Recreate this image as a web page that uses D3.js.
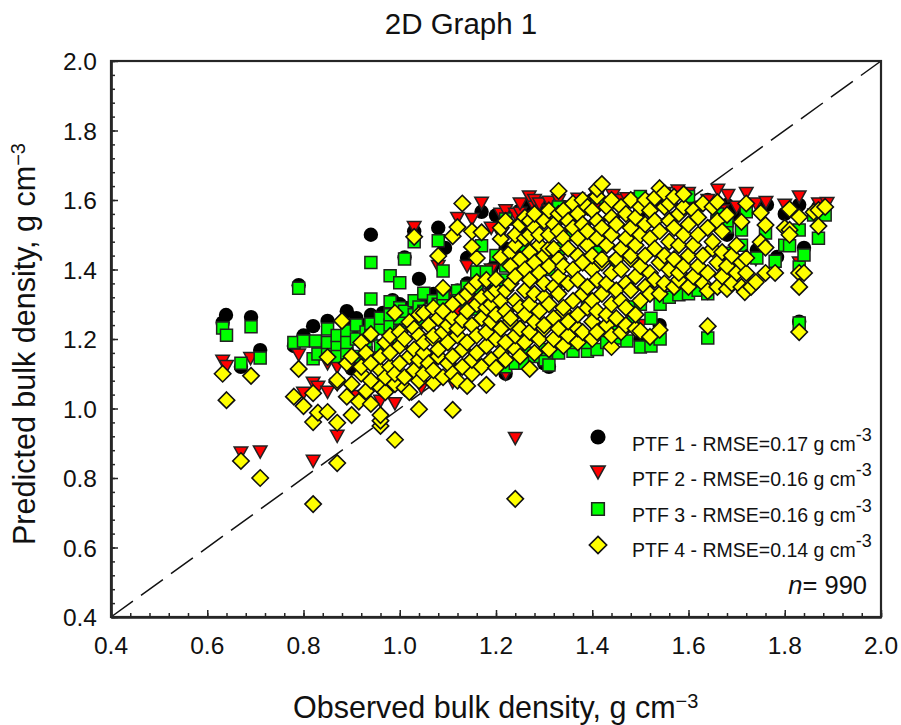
<!DOCTYPE html>
<html><head><meta charset="utf-8">
<script src="https://cdn.jsdelivr.net/npm/d3@7"></script>
<style>html,body{margin:0;padding:0;background:#fff}svg{display:block}text{font-family:"Liberation Sans",Arial,sans-serif;fill:#111}</style>
</head><body><svg id="c" width="901" height="725"></svg>
<script>
const titleText = "2D Graph 1";
const xTitle = "Observed bulk density, g cm";
const yTitle = "Predicted bulk density, g cm";
const tickValues = [0.4,0.6,0.8,1.0,1.2,1.4,1.6,1.8,2.0];
const legendLabels = ["PTF 1 - RMSE=0.17 g cm","PTF 2 - RMSE=0.16 g cm","PTF 3 - RMSE=0.16 g cm","PTF 4 - RMSE=0.14 g cm"];
const refLine = [0.4,2.0];

// each row: observed value, then predicted values read at that observed value
const ptf1 = [
[.632,[1.247]],[.639,[1.269]],[.67,[1.12]],[.691,[1.263]],[.71,[1.168]],[.78,[1.18]],[.79,[1.355]],[.80,[1.21]],[.82,[1.237]],[.85,[1.252]],
[.87,[1.19]],[.89,[1.28,1.24]],[.90,[1.115,1.22]],[.91,[1.26]],[.93,[1.24]],[.94,[1.269,1.50]],[.965,[1.275,1.25]],[.985,[1.312,1.28]],[1.0,[1.3]],[1.01,[1.435,1.29]],[1.03,[1.51,1.3]],[1.04,[1.373,1.31]],
[1.05,[1.32]],[1.07,[1.33]],[1.08,[1.52,1.3]],[1.094,[1.462]],[1.1,[1.29,1.33]],[1.12,[1.31,1.34]],[1.14,[1.433,1.36]],[1.16,[1.35]],[1.17,[1.566,1.31]],[1.19,[1.4]],[1.2,[1.556,1.42]],[1.22,[1.556,1.46,1.1]],[1.25,[1.52,1.57]],
[1.27,[1.586,1.15]],[1.3,[1.56,1.13,1.59]],[1.31,[1.12]],[1.34,[1.58]],[1.38,[1.59]],[1.4,[1.17,1.6]],[1.45,[1.6]],[1.5,[1.2,1.57]],[1.54,[1.24,1.6]],[1.6,[1.58]],[1.64,[1.6]],[1.66,[1.55]],[1.68,[1.586,1.5]],[1.70,[1.56]],[1.742,[1.456]],[1.763,[1.586]],
[1.784,[1.436]],[1.80,[1.56]],[1.83,[1.586,1.25]],[1.84,[1.462]],[1.87,[1.58]]
];
const ptf2 = [
[.632,[1.137]],[.64,[1.122]],[.67,[.873]],[.69,[1.145]],[.71,[.876]],[.79,[1.155]],[.80,[1.045]],[.82,[.849,1.074]],[.83,[1.062]],[.85,[1.048,1.13]],
[.87,[.921,1.07,1.12]],[.91,[1.036]],[.96,[1.022]],[.99,[1.015]],[1.03,[1.522]],[1.045,[1.06]],[1.08,[1.41,1.3]],[1.1,[1.3,1.32]],[1.11,[1.076]],[1.12,[1.548,1.28,1.31]],[1.14,[1.41,1.3]],[1.15,[1.545,1.33]],
[1.17,[1.592,1.3]],[1.19,[1.4,1.52,1.33]],[1.21,[1.3,1.5,1.56]],[1.22,[1.1,1.57]],[1.24,[.915,1.56]],[1.25,[1.563,1.42,1.59]],[1.269,[1.61]],[1.28,[1.58,1.6]],[1.29,[1.59]],[1.31,[1.571,1.595]],[1.33,[1.6]],[1.35,[1.58]],
[1.37,[1.603]],[1.39,[1.595]],[1.41,[1.59,1.61]],[1.443,[1.614]],[1.46,[1.6]],[1.472,[1.605]],[1.5,[1.59,1.24]],[1.53,[1.6]],[1.55,[1.62]],[1.578,[1.627]],[1.6,[1.6,1.62]],[1.62,[1.58]],
[1.64,[1.6]],[1.661,[1.629]],[1.67,[1.57]],[1.682,[1.614]],[1.70,[1.58]],[1.72,[1.62]],[1.74,[1.59,1.43]],[1.761,[1.594]],[1.80,[1.586]],[1.83,[1.61,1.42]],[1.87,[1.59]],[1.888,[1.591]]
];
const ptf3 = [
[.632,[1.232]],[.64,[1.211]],[.67,[1.13]],[.691,[1.235]],[.71,[1.145]],[.78,[1.19]],[.79,[1.346]],[.80,[1.194]],[.82,[1.143]],[.825,[1.194]],
[.83,[1.157]],[.85,[1.229,1.17,1.19]],[.87,[1.177,1.21,1.15]],[.89,[1.223,1.16,1.19]],[.91,[1.2,1.15,1.24]],[.93,[1.19,1.16,1.22]],[.94,[1.243,1.42,1.315,1.21]],[.96,[1.18,1.23,1.26]],[.98,[1.382,1.307,1.24,1.2,1.27]],[1.0,[1.362,1.26,1.22,1.29]],
[1.01,[1.43,1.28]],[1.03,[1.48,1.27,1.31]],[1.04,[1.292,1.25]],[1.05,[1.332,1.28]],[1.07,[1.29,1.31]],[1.08,[1.483,1.3]],[1.09,[1.396,1.3,1.33]],[1.12,[1.339,1.31]],[1.14,[1.35,1.286]],[1.16,[1.393,1.286,1.34]],[1.17,[1.468]],
[1.18,[1.393,1.32]],[1.2,[1.36,1.44]],[1.22,[1.545,1.41,1.37,1.12]],[1.24,[1.13,1.43]],[1.26,[1.16,1.13,1.46]],[1.28,[1.551,1.45,1.15]],[1.302,[1.14,1.17]],[1.31,[1.125,1.4]],[1.33,[1.16,1.46,1.58]],[1.36,[1.165,1.5,1.19]],[1.39,[1.165,1.3,1.19]],[1.41,[1.608,1.45,1.17]],
[1.43,[1.19]],[1.45,[1.203,1.4,1.22]],[1.472,[1.194]],[1.485,[1.292,1.25]],[1.50,[1.177,1.61,1.3]],[1.522,[1.18,1.26]],[1.541,[1.2,1.3]],[1.56,[1.32,1.61]],[1.58,[1.327]],[1.6,[1.33,1.61]],[1.62,[1.34]],[1.64,[1.203,1.33]],
[1.66,[1.56]],[1.68,[1.522,1.36,1.54]],[1.686,[1.447]],[1.71,[1.514,1.47]],[1.72,[1.566]],[1.742,[1.433]],[1.76,[1.505]],[1.78,[1.424]],[1.80,[1.47]],[1.81,[1.468]],[1.83,[1.514,1.407,1.246]],
[1.84,[1.442]],[1.86,[1.557]],[1.87,[1.49]],[1.884,[1.557]]
];
const ptf4 = [
[.632,[1.10]],[.64,[1.024]],[.67,[.849]],[.691,[1.094]],[.71,[.80]],[.78,[1.034]],[.79,[1.114]],[.80,[1.007]],[.82,[.725,.961,1.044]],[.83,[.988]],
[.85,[.99,1.148]],[.87,[.843,.959,1.076,1.082]],[.88,[1.252]],[.89,[1.034,1.13]],[.90,[.981,1.07,1.15]],[.915,[1.02]],[.92,[1.1,1.12,1.19]],[.93,[1.05,1.16]],[.94,[1.013,1.08,1.13,1.214]],[.96,[.95,.965,.981,1.06,1.11,1.15]],
[.97,[1.047,1.09,1.19]],[.98,[1.12,1.16,1.209]],[.99,[.91,1.07,1.1,1.275]],[1.0,[1.13,1.18,1.22]],[1.01,[1.06,1.09,1.2]],[1.02,[1.047,1.15,1.249]],[1.03,[1.108,1.11,1.17,1.23]],[1.03,[1.494]],[1.04,[.998,1.08,1.14,1.21,1.27]],[1.05,[1.1,1.16,1.19,1.275]],[1.06,[1.13,1.24]],
[1.07,[1.073,1.11,1.2,1.21,1.29]],[1.08,[1.15,1.17,1.26,1.439]],[1.09,[1.09,1.22,1.28,1.347]],[1.10,[1.13,1.19,1.24]],[1.11,[.996,1.1,1.15,1.26,1.3,1.496]],[1.12,[1.08,1.21,1.23,1.522]],[1.13,[1.12,1.17,1.255,1.32,1.59]],[1.14,[1.065,1.19,1.28,1.33]],[1.15,[1.1,1.14,1.24,1.35,1.465,1.51]],[1.16,[1.16,1.21,1.3,1.364,1.433]],
[1.17,[1.12,1.26,1.32,1.507]],[1.18,[1.068,1.18,1.22,1.29,1.37]],[1.19,[1.14,1.25,1.3,1.33]],[1.20,[1.117,1.2,1.27,1.34,1.372]],[1.21,[1.16,1.23,1.31,1.436,1.488,1.52]],[1.22,[1.14,1.19,1.28,1.34,1.54]],[1.23,[1.25,1.26,1.36,1.45,1.41]],[1.24,[.74,1.17,1.21,1.31,1.38,1.47,1.5]],[1.25,[1.15,1.23,1.29,1.43,1.53]],[1.26,[1.19,1.27,1.34,1.4,1.49,1.55]],
[1.27,[1.114,1.22,1.3,1.37,1.45,1.5,1.54]],[1.28,[1.16,1.25,1.33,1.42,1.52,1.56]],[1.29,[1.2,1.28,1.39,1.47,1.5]],[1.30,[1.23,1.24,1.32,1.36,1.44,1.54]],[1.31,[1.17,1.3,1.41,1.46,1.5,1.57]],[1.32,[1.2,1.26,1.35,1.46,1.53]],[1.33,[1.23,1.33,1.38,1.43,1.51,1.56,1.626]],[1.34,[1.18,1.28,1.29,1.41,1.49,1.57]],[1.35,[1.21,1.25,1.36,1.46,1.54]],[1.36,[1.31,1.4,1.52,1.59]],
[1.37,[1.19,1.23,1.27,1.37,1.44,1.49,1.56]],[1.38,[1.22,1.33,1.42,1.53,1.6]],[1.39,[1.29,1.35,1.47,1.51,1.58]],[1.40,[1.2,1.25,1.31,1.4,1.44,1.57]],[1.41,[1.22,1.28,1.37,1.49,1.54,1.61,1.632]],[1.42,[1.33,1.42,1.43,1.52,1.646]],[1.43,[1.24,1.27,1.36,1.47,1.58]],[1.44,[1.177,1.21,1.3,1.39,1.5,1.55,1.6]],[1.45,[1.26,1.34,1.43,1.53]],[1.46,[1.22,1.31,1.4,1.46,1.58]],
[1.47,[1.24,1.29,1.36,1.49,1.56]],[1.48,[1.34,1.43,1.44,1.52,1.6]],[1.49,[1.23,1.27,1.38,1.47,1.55]],[1.50,[1.223,1.31,1.41,1.5,1.58]],[1.51,[1.35,1.44,1.53,1.6]],[1.52,[1.206,1.33,1.39,1.49,1.57]],[1.53,[1.37,1.46,1.54,1.606]],[1.54,[1.226,1.33,1.42,1.51,1.634]],[1.55,[1.36,1.44,1.58,1.62]],[1.56,[1.4,1.48,1.54,1.59]],
[1.57,[1.35,1.43,1.52,1.609]],[1.58,[1.37,1.39,1.47,1.56]],[1.59,[1.41,1.5,1.58,1.617]],[1.60,[1.35,1.44,1.53]],[1.61,[1.38,1.47,1.57]],[1.62,[1.41,1.5,1.55]],[1.63,[1.36,1.44,1.59]],[1.64,[1.237,1.338,1.39,1.52]],[1.65,[1.46,1.48,1.58]],[1.66,[1.35,1.42,1.54,1.594]],
[1.67,[1.38,1.45,1.51]],[1.68,[1.344,1.41,1.557]],[1.69,[1.36,1.44]],[1.70,[1.47,1.39]],[1.71,[1.35,1.42,1.537]],[1.717,[1.335]],[1.72,[1.39,1.433,1.59]],[1.73,[1.35]],[1.74,[1.364]],[1.75,[1.479,1.563]],
[1.76,[1.39,1.463,1.528]],[1.78,[1.39]],[1.80,[1.52]],[1.81,[1.574,1.514,1.5]],[1.83,[1.551,1.39,1.35,1.22]],[1.84,[1.39]],[1.86,[1.565]],[1.87,[1.571,1.525]],[1.884,[1.58]]
];

const svg = d3.select("#c");
const M = {l:111,r:881,t:61,b:617};
const x = d3.scaleLinear().domain([0.4,2.0]).range([M.l,M.r]);
const y = d3.scaleLinear().domain([0.4,2.0]).range([M.b,M.t]);
const axisColor = "#262626";

svg.append("line").attr("x1",x(refLine[0])).attr("y1",y(refLine[0])).attr("x2",x(refLine[1])).attr("y2",y(refLine[1]))
  .attr("stroke","#111").attr("stroke-width",1.5).attr("stroke-dasharray","27 10");

const sym = {
 circle: d3.symbol().type(d3.symbolCircle).size(Math.PI*7.2*7.2)(),
 tri: "M-6.8,-5.6L6.8,-5.6L0,6.6Z",
 square: "M-6,-6H6V6H-6Z",
 diamond: "M0,-8.2L8.2,0L0,8.2L-8.2,0Z"
};
const flat = rows => rows.flatMap(([o,ps]) => ps.map(p => [o,p]));
const series = [
 {rows:ptf1,path:sym.circle,fill:"#000",stroke:"#000",sw:0},
 {rows:ptf2,path:sym.tri,fill:"#ff0000",stroke:"#222",sw:1.5},
 {rows:ptf3,path:sym.square,fill:"#00ff00",stroke:"#222",sw:1.5},
 {rows:ptf4,path:sym.diamond,fill:"#ffff00",stroke:"#111",sw:1.6}
];
series.forEach(s => {
  svg.append("g").selectAll("path").data(flat(s.rows)).join("path")
   .attr("d",s.path).attr("fill",s.fill).attr("stroke",s.stroke).attr("stroke-width",s.sw)
   .attr("transform",d=>`translate(${x(d[0])},${y(d[1])})`);
});

const minor = d3.range(0,41).map(i=>+(0.4+i*0.04).toFixed(2));
const fmt = d3.format(".1f");
function styleAxis(g){
  g.selectAll(".domain").attr("stroke",axisColor).attr("stroke-width",2.2);
  g.selectAll(".tick line").attr("stroke",axisColor).attr("stroke-width",1.5);
}
const gx = svg.append("g").attr("transform",`translate(0,${M.b})`);
gx.call(d3.axisTop(x).tickValues(minor).tickSize(4).tickSizeOuter(0).tickFormat("")).call(styleAxis);
gx.append("g").call(d3.axisTop(x).tickValues(tickValues).tickSize(7).tickSizeOuter(0).tickFormat("")).call(styleAxis);
const gy = svg.append("g").attr("transform",`translate(${M.l},0)`);
gy.call(d3.axisRight(y).tickValues(minor).tickSize(4).tickSizeOuter(0).tickFormat("")).call(styleAxis);
gy.append("g").call(d3.axisRight(y).tickValues(tickValues).tickSize(7).tickSizeOuter(0).tickFormat("")).call(styleAxis);
svg.append("rect").attr("x",M.l).attr("y",M.t).attr("width",M.r-M.l).attr("height",M.b-M.t)
  .attr("fill","none").attr("stroke",axisColor).attr("stroke-width",2.2);

svg.append("g").selectAll("text").data(tickValues).join("text")
  .attr("x",d=>x(d)).attr("y",654).attr("text-anchor","middle").attr("font-size",24.5).text(fmt);
svg.append("g").selectAll("text").data(tickValues).join("text")
  .attr("x",97).attr("y",d=>y(d)+9).attr("text-anchor","end").attr("font-size",24.5).text(fmt);

svg.append("text").attr("x",461).attr("y",34).attr("text-anchor","middle").attr("font-size",29.5).text(titleText);
function withSup(t,label,supSize,dy){
  t.append("tspan").text(label);
  t.append("tspan").attr("font-size",supSize).attr("dy",dy).text("\u22123");
}
const tx = svg.append("text").attr("x",293).attr("y",718).attr("font-size",30.5);
withSup(tx,xTitle,20,-10);
const ty = svg.append("text").attr("transform","translate(35,545) rotate(-90)").attr("font-size",30.5);
withSup(ty,yTitle,20,-10);

const legendY = [437,472,509,545];
const textY = [451,486,522,557];
const legendScale = 1.05;
series.forEach((s,i)=>{
  svg.append("path").attr("d",s.path).attr("fill",s.fill).attr("stroke",s.stroke).attr("stroke-width",s.sw)
    .attr("transform",`translate(598,${legendY[i]}) scale(${legendScale})`);
  const t = svg.append("text").attr("x",632).attr("y",textY[i]).attr("font-size",19.5);
  t.append("tspan").text(legendLabels[i]);
  t.append("tspan").attr("font-size",18).attr("dy",-10).text("-3");
});
const nt = svg.append("text").attr("x",867).attr("y",594).attr("text-anchor","end").attr("font-size",25.5);
nt.append("tspan").attr("font-style","italic").text("n");
nt.append("tspan").text("= 990");
</script></body></html>
